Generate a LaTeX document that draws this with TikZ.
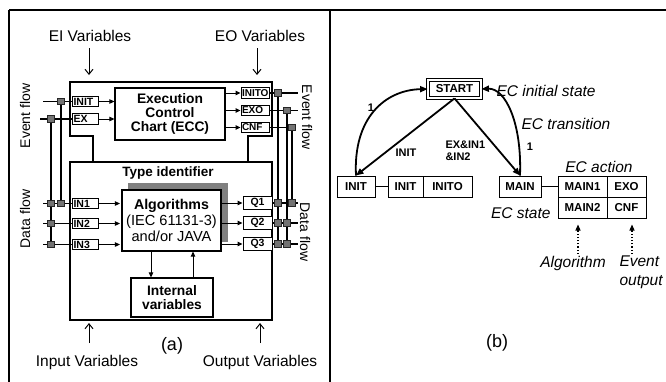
\documentclass[tikz,border=0pt]{standalone}
\usepackage{fontspec}
\setmainfont{Liberation Sans}
\usetikzlibrary{arrows.meta}

\begin{document}
\begin{tikzpicture}[x=1pt,y=-1pt,
  frame/.style={line width=2pt},
  blk/.style={line width=1.8pt},
  box/.style={draw, line width=1.2pt, fill=white, inner sep=0pt},
  port/.style={draw, line width=1pt, fill=white, inner sep=1.5pt, minimum height=10.5pt,
    text width=23pt, align=left, font=\fontsize{10.5}{10.5}\selectfont\bfseries},
  oport/.style={port, inner sep=1pt, text width=26pt, font=\fontsize{10}{10}\selectfont\bfseries},
  qport/.style={port, text width=26pt, align=center},
  flow/.style={-{Triangle[length=5pt,width=4.5pt]}, line width=1pt},
  wire/.style={line width=1.7pt},
  vwire/.style={line width=1.2pt},
  jn/.style={draw=black!85, fill=black!55, line width=0.6pt, minimum size=6.5pt, inner sep=0pt},
  big/.style={font=\fontsize{15.5}{18}\selectfont},
  side/.style={font=\fontsize{14}{16}\selectfont},
  tag/.style={font=\fontsize{18}{20}\selectfont},
  var/.style={-{Straight Barb[length=5pt,width=8pt]}, line width=1pt},
  state/.style={draw, line width=1pt, fill=white, minimum height=21pt, inner sep=0pt,
    font=\fontsize{11.5}{11.5}\selectfont\bfseries},
  trans/.style={-{Triangle[length=7.5pt,width=6pt]}, line width=1.8pt},
  tlabel/.style={font=\fontsize{11}{12}\selectfont\bfseries},
  note/.style={font=\fontsize{15.5}{19}\selectfont\itshape},
  dotarr/.style={dotted, line width=1.2pt, -{Triangle[length=6pt,width=5pt]}},
]
\useasboundingbox (0,0) rectangle (666,381);
\clip (0,0) rectangle (666,381);

% outer frame and panel divider
\draw[frame] (9,10) -- (690,10);
\draw[frame] (9,10) -- (9,400);
\draw[frame] (330,10) -- (330,400);

% ---------------- panel (a): function block ----------------
\node[big] (eiv) at (90,36) {EI Variables};
\node[big] (eov) at (260,36) {EO Variables};
\coordinate (eiA) at (89,48);  \coordinate (eiB) at (89,75);
\coordinate (eoA) at (257,48); \coordinate (eoB) at (257,75);
\draw[var] (eiA) -- (eiB);
\draw[var] (eoA) -- (eoB);

% event head and data body outlines
\draw[blk] (93,162) -- (93,136) -- (70,136) -- (70,82) -- (272,82) -- (272,136) -- (248,136) -- (248,162);
\draw[blk] (70,162) rectangle (272,320);

\node[box, minimum width=110pt, minimum height=52pt, align=center,
  font=\fontsize{13.8}{14}\selectfont\bfseries] (ecc) at (170,114) {Execution\\Control\\Chart (ECC)};

\node[font=\fontsize{13.5}{14}\selectfont\bfseries] (tid) at (168,173) {Type identifier};
\fill[black!50] (128,183) rectangle (228,242);
\node[box, minimum width=99pt, minimum height=61pt, align=center,
  font=\fontsize{14.6}{16}\selectfont] (alg) at (171.5,220.5)
  {{\fontsize{14.2}{16}\selectfont\bfseries Algorithms}\\(IEC 61131-3)\\and/or JAVA};
\node[box, minimum width=82pt, minimum height=39pt, align=center,
  font=\fontsize{13.8}{14}\selectfont\bfseries] (intv) at (172,297.5) {Internal\\variables};
\draw[flow] ([xshift=-20.5pt]alg.south) -- ([xshift=-20.5pt]alg.south |- intv.north);
\draw[flow] ([xshift=21.5pt]alg.south |- intv.north) -- ([xshift=21.5pt]alg.south);

% interface ports
\node[port] (pINIT) at (85,101.5) {INIT};
\node[port] (pEX) at (85,119) {EX};
\node[port] (pIN1) at (85,203.5) {IN1};
\node[port] (pIN2) at (85,223.5) {IN2};
\node[port] (pIN3) at (85,244.5) {IN3};
\node[oport] (pINITO) at (255,93) {INITO};
\node[oport] (pEXO) at (255,110.5) {EXO};
\node[oport] (pCNF) at (255,127.5) {CNF};
\node[qport] (pQ1) at (257.5,203) {Q1};
\node[qport] (pQ2) at (257.5,223) {Q2};
\node[qport] (pQ3) at (257.5,244) {Q3};

\draw[flow] (pINIT.east) -- (pINIT.east -| ecc.west);
\draw[flow] (pEX.east) -- (pEX.east -| ecc.west);
\draw[flow] (pINITO.west -| ecc.east) -- (pINITO.west);
\draw[flow] (pEXO.west -| ecc.east) -- (pEXO.west);
\draw[flow] (pCNF.west -| ecc.east) -- (pCNF.west);
\foreach \p in {pIN1,pIN2,pIN3} \draw[flow] (\p.east) -- ([xshift=-1.5pt]\p.east -| alg.west);
\foreach \p in {pQ1,pQ2,pQ3} \draw[flow] (\p.west -| alg.east) -- (\p.west);

% external wires with WITH associations
\coordinate (wINIT) at (43,101.5);
\coordinate (wEX) at (40,119);
\coordinate (wIN1) at (43,203.5);
\coordinate (wIN2) at (43,223.5);
\coordinate (wIN3) at (43,244.5);
\coordinate (wINITO) at (298,93);
\coordinate (wEXO) at (298,110.5);
\coordinate (wCNF) at (295,127.5);
\coordinate (wQ1) at (298,203);
\coordinate (wQ2) at (298,223);
\coordinate (wQ3) at (298,244);
\foreach \p in {INIT,EX,IN1,IN2,IN3} \draw[wire] (w\p) -- (p\p.west);
\foreach \p in {INITO,EXO,CNF,Q1,Q2,Q3} \draw[wire] (p\p.east) -- (w\p);

\coordinate (cA) at (61,0);  \coordinate (cB) at (51,0);
\coordinate (cC) at (278,0); \coordinate (cD) at (287,0); \coordinate (cE) at (292,0);
\draw[vwire] (cA |- pINIT) -- (cA |- pIN1);
\draw[vwire] (cB |- pEX) -- (cB |- pIN3);
\draw[vwire] (cC |- pINITO) -- (cC |- pQ3);
\draw[vwire] (cD |- pEXO) -- (cD |- pQ3);
\draw[vwire] (cE |- pCNF) -- (cE |- pQ1);

\node[jn] (j1) at (cA |- pINIT) {};
\node[jn] (j2) at (cB |- pEX) {};
\node[jn] (j3) at (cA |- pIN1) {};
\node[jn] (j4) at (cB |- pIN1) {};
\node[jn] (j5) at (cB |- pIN2) {};
\node[jn] (j6) at (cB |- pIN3) {};
\node[jn] (j7) at (cC |- pINITO) {};
\node[jn] (j8) at (cD |- pEXO) {};
\node[jn] (j9) at (cE |- pCNF) {};
\node[jn] (j10) at (cC |- pQ1) {};
\node[jn] (j11) at (cE |- pQ1) {};
\node[jn] (j12) at (cC |- pQ2) {};
\node[jn] (j13) at (cD |- pQ2) {};
\node[jn] (j14) at (cC |- pQ3) {};
\node[jn] (j15) at (cD |- pQ3) {};

\node[side, rotate=90] (lef) at (25,116) {Event flow};
\node[side, rotate=90] (ldf) at (25,219) {Data flow};
\node[side, rotate=-90] (ref) at (307,117) {Event flow};
\node[side, rotate=-90] (rdf) at (305,232) {Data flow};

\node[big] (inv) at (87,362) {Input Variables};
\node[big] (outv) at (260,362) {Output Variables};
\coordinate (ivA) at (89,343);  \coordinate (ivB) at (89,323);
\coordinate (ovA) at (260,343); \coordinate (ovB) at (260,323);
\draw[var] (ivA) -- (ivB);
\draw[var] (ovA) -- (ovB);
\node[tag] (capa) at (172,346) {(a)};

% ---------------- panel (b): execution control chart ----------------
\node[state, line width=0.8pt, double, double distance=1.6pt, minimum width=53pt,
  minimum height=18pt] (start) at (454.5,89) {START};
\node[state, minimum width=38pt] (sINIT) at (356,186.5) {INIT};
\node[state, minimum width=35pt] (aINIT) at (405.5,186.5) {INIT};
\node[state, minimum width=49pt] (aINITO) at (447.5,186.5) {INITO};
\node[state, minimum width=42pt] (sMAIN) at (520,186.5) {MAIN};
\node[state, minimum width=49pt] (aM1) at (582.5,186.5) {MAIN1};
\node[state, minimum width=39pt] (aEXO) at (626.5,186.5) {EXO};
\node[state, minimum width=49pt] (aM2) at (582.5,207.5) {MAIN2};
\node[state, minimum width=39pt] (aCNF) at (626.5,207.5) {CNF};

\draw[line width=1pt] (sINIT.east) -- (aINIT.west);
\draw[line width=1pt] (sMAIN.east) -- (aM1.west);

\draw[trans] (start.south) -- (sINIT.north);
\draw[trans] (start.south) -- (sMAIN.north);
\draw[trans] (sINIT.north) .. controls (353,118) and (385,90) .. (start.west);
\draw[trans] (sMAIN.north) .. controls (522,122) and (505,88) .. (start.east);

\node[tlabel] (l1) at (371,108) {1};
\node[tlabel] (linit) at (406,153) {INIT};
\node[tlabel, align=left, anchor=west] (lex) at (442,151) {EX\&IN1\\\&IN2};
\node[tlabel] (l2) at (530,147) {1};

\node[note, anchor=west] (nini) at (493,91) {EC initial state};
\node[note, anchor=west] (ntr) at (518,124) {EC transition};
\node[note] (nact) at (599,167) {EC action};
\node[note, anchor=east] (nst) at (554,213) {EC state};

\coordinate (dA) at (578,254);
\coordinate (dB) at (632,254);
\draw[dotarr, shorten >=6pt] (dA) -- (dA |- aM2.south);
\draw[dotarr, shorten >=6pt] (dB) -- (dB |- aCNF.south);
\node[note] (nalg) at (573,263) {Algorithm};
\node[note, align=left, anchor=west] (nevo) at (616,272.5) {Event\\output};

\node[tag] (capb) at (497,343) {(b)};
\end{tikzpicture}
\end{document}
